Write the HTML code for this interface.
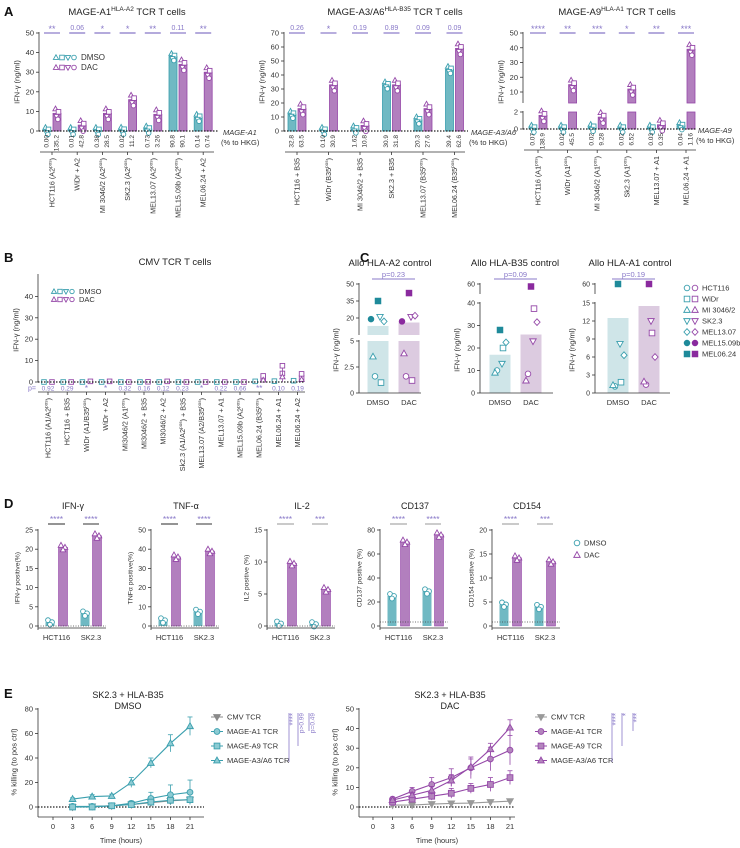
<!DOCTYPE html>
<html><head><meta charset="utf-8">
<style>
html,body{margin:0;padding:0;background:#fff;}
svg{display:block;font-family:"Liberation Sans",sans-serif;}
</style></head>
<body>
<svg id="fig" width="740" height="848" viewBox="0 0 740 848"></svg>
<script>
// ---------- DATA ----------
const a1Labels=["HCT116 (A2|pos)","WiDr + A2","MI 3046/2 (A2|pos)","SK2.3 (A2|pos)","MEL13.07 (A2|pos)","MEL15.09b (A2|pos)","MEL06.24 + A2"];
const a1Dmso=[0.3,0.3,0.3,0.4,1,38,7];
const a1Dac=[9,3,9,16,8.5,34,30];
const a1PctD=["0.00","0.01","0.38","0.02","0.73","90.8","0.14"];
const a1PctT=["135.2","42.8","28.5","11.2","3.26","90.1","0.74"];
const a1Sig=["**","0.06","*","*","**","0.11","**"];
const a2Labels=["HCT116 + B35","WiDr (B35|pos)","MI 3046/2 + B35","SK2.3 + B35","MEL13.07 (B35|pos)","MEL06.24 (B35|pos)"];
const a2Dmso=[12,0.5,1.5,33,8,44];
const a2Dac=[16,33,4,33,16,59];
const a2PctD=["32.8","0.10","1.62","30.9","20.3","39.4"];
const a2PctT=["63.5","30.9","10.8","31.8","27.6","62.6"];
const a2Sig=["0.26","*","0.19","0.89","0.09","0.09"];
const a3Labels=["HCT116 (A1|pos)","WiDr (A1|pos)","MI 3046/2 (A1|pos)","Sk2.3 (A1|pos)","MEL13.07 + A1","MEL06.24 + A1"];
const a3Dmso=[0.1,0.1,0.2,0.1,0.1,0.4];
const a3Dac=[1.6,15,1.4,12,0.5,39];
const a3PctD=["0.07","0.02","0.02","0.02","0.03","0.04"];
const a3PctT=["138.9","45.5","9.28","6.52","0.35","1.16"];
const a3Sig=["****","**","***","*","**","***"];
const bLabels=["HCT116 (A1/A2|pos)","HCT116 + B35","WiDr (A1/B35|pos)","WiDr + A2","MI3046/2 (A1|pos)","MI3046/2 + B35","MI3046/2 + A2","Sk2.3 (A1/A2|pos) + B35","MEL13.07 (A2/B35|pos)","MEL13.07 + A1","MEL15.09b (A2|pos)","MEL06.24 (B35|pos)","MEL06.24 + A1","MEL06.24 + A2"];
const bDmso=[0,0,0,0,0,0,0,0,0,0,0,0.3,0.4,0.6];
const bDac=[0,0,0.3,0.3,0,0.1,0.3,0,0,0,0,1.5,4,2];
const bP=["0.92","0.29","*","*","0.32","0.16","0.12","0.23","*","0.22","0.66","**","0.10","0.19"];
const cShapes=["circle","square","tri","dtri","diamond","fcircle","fsquare"];
const cNames=["HCT116","WiDr","MI 3046/2","SK2.3","MEL13.07","MEL15.09b","MEL06.24"];
const c1Dmso=[1.6,1,3.5,21,17,19,35];
const c1Dac=[1.6,1.2,3.8,21,22,17,42];
const c2Dmso=[10,20,9,13,22.5,null,28];
const c2Dac=[8.5,37.5,5.5,23,31.5,null,55];
const c3Dmso=[1.1,1.8,1.3,8.2,6.3,null,60];
const c3Dac=[1.4,10,1.9,12,6,null,60];
const cBarDmso=[13,17,12.5];
const cBarDac=[16,26,14.5];
const cP=["p=0.23","p=0.09","p=0.19"];
const dTitles=["IFN-γ","TNF-α","IL-2","CD137","CD154"];
const dYTitles=["IFN-γ positive(%)","TNFα positive(%)","IL2 positive (%)","CD137 positive (%)","CD154 positive (%)"];
const dMax=[25,50,15,80,20];
const dStep=[5,10,5,20,5];
const dDmso=[[1,3.3],[3,7.5],[0.4,0.3],[25,29],[4.5,4]];
const dDac=[[20.5,23.5],[36,39],[9.8,5.7],[70,76],[14.2,13.4]];
const dSig=[["****","****"],["****","****"],["****","***"],["****","****"],["****","***"]];
const eTime=[3,6,9,12,15,18,21];
const eLeftCMV=[0,0.5,1,2,3.5,5,6];
const eLeftA1=[0.5,0.5,1,3,7,10,12];
const eLeftA9=[0,0,1,2,4,5.5,6];
const eLeftA3=[6.5,8.5,9,20,36,52,66];
const eLeftA3Err=[1,1.5,1.5,4,4,7,7.5];
const eLeftA1Err=[0.5,0.5,1,2,5,8,10];
const eRightCMV=[1,1,1.5,1.8,2,2.5,3];
const eRightA1=[4,8,11.5,15,20,24.5,29];
const eRightA9=[2.5,4,5.5,7,9.5,11.5,15];
const eRightA3=[3.5,6,8.5,13.5,20.5,29.5,40.5];
const eRightA1Err=[1,2,3.5,4.5,5.5,6,7.5];
const eRightA3Err=[1,1.5,2,3,4,3,4];
const eRightA9Err=[1,1.5,2,2.5,2.5,3.5,3.5];

// ---------- HELPERS ----------
const NS='http://www.w3.org/2000/svg';
const svg=document.getElementById('fig');
const TEAL='#3a9fae',TEALF='#70b9c3',PUR='#9548a8',PURF='#b27fbe',SIG='#8878c8',GREY='#333';
function el(tag,attrs,parent){const e=document.createElementNS(NS,tag);for(const k in attrs)e.setAttribute(k,attrs[k]);(parent||svg).appendChild(e);return e;}
function txt(x,y,s,attrs,name){const t=el('text',Object.assign({x:x,y:y,'font-size':7,fill:'#333'},attrs||{}));t.textContent=s;


return t;}
function line(x1,y1,x2,y2,st,w,extra,name){const l=el('line',Object.assign({x1:x1,y1:y1,x2:x2,y2:y2,stroke:st||GREY,'stroke-width':w||0.8},extra||{}));


return l;}
function marker(shape,cx,cy,r,stroke,fill){
 let e;const filled=shape[0]==='f';
 const s=filled?shape.slice(1):shape;
 if(s==='circle')e=el('circle',{cx:cx,cy:cy,r:r});
 else if(s==='square')e=el('rect',{x:cx-r,y:cy-r,width:2*r,height:2*r});
 else if(s==='tri')e=el('polygon',{points:`${cx},${cy-r*1.2} ${cx-r*1.15},${cy+r*0.85} ${cx+r*1.15},${cy+r*0.85}`});
 else if(s==='dtri')e=el('polygon',{points:`${cx},${cy+r*1.2} ${cx-r*1.15},${cy-r*0.85} ${cx+r*1.15},${cy-r*0.85}`});
 else e=el('polygon',{points:`${cx},${cy-r*1.2} ${cx+r*1.1},${cy} ${cx},${cy+r*1.2} ${cx-r*1.1},${cy}`});
 e.setAttribute('fill',filled?stroke:fill);
 e.setAttribute('stroke',stroke);
 e.setAttribute('stroke-width',0.9);
 
 
 return e;}
function segMap(segs){return function(v){for(const s of segs){if(v<=s.hi)return s.ylo-(Math.max(v,s.lo)-s.lo)/(s.hi-s.lo)*(s.ylo-s.yhi);}const s=segs[segs.length-1];return s.yhi-(v-s.hi)/(s.hi-s.lo)*(s.ylo-s.yhi);};}
function brokenBar(x,w,v,segs,fill,stroke,name){
 segs.forEach(function(s,i){
  if(i>0&&v<=s.lo)return;
  const top=segMap([s])(Math.min(v,s.hi));const bot=(i===0)?s.ylo:(s.ybreak||s.ylo);
  const r=el('rect',{x:x-w/2,y:Math.min(top,bot),width:w,height:Math.abs(bot-top),fill:fill,stroke:stroke||'none','stroke-width':0.8});
  
  
 });}
function yAxis(ax,segs,ticks,fs){
 segs.forEach(function(s){line(ax,s.ybreak||s.ylo,ax,s.yhi-1,GREY,0.8);});
 const m=segMap(segs);
 ticks.forEach(function(t){const y=m(t);line(ax-3,y,ax,y,GREY,0.8,{},'y-tick');txt(ax-5,y+2.5,String(t),{'text-anchor':'end','font-size':fs||7.5},'y-tick-label');});}
function rotText(x,y,s,anchor,fs,name,fill){
 const parts=s.split('|');
 const t=el('text',{x:x,y:y,'font-size':fs,fill:fill||'#333','text-anchor':anchor,transform:`rotate(-90 ${x} ${y})`,'dominant-baseline':'central'});
 t.appendChild(document.createTextNode(parts[0]));
 if(parts[1]!==undefined){
   const rest=parts[1];
   const sp=document.createElementNS(NS,'tspan');sp.setAttribute('font-size',fs*0.65);sp.setAttribute('dy',-2.5);sp.textContent=rest.split(')')[0];t.appendChild(sp);
   const sp2=document.createElementNS(NS,'tspan');sp2.setAttribute('dy',2.5);sp2.textContent=')'+rest.split(')').slice(1).join(')');t.appendChild(sp2);
 }
 
 
 return t;}
function title(x,y,main,sup,rest,name){
 const t=el('text',{x:x,y:y,'font-size':9.5,fill:'#222','text-anchor':'middle'});
 t.appendChild(document.createTextNode(main));
 if(sup){const s=document.createElementNS(NS,'tspan');s.setAttribute('font-size',6.5);s.setAttribute('dy',-4);s.textContent=sup;t.appendChild(s);
 const r=document.createElementNS(NS,'tspan');r.setAttribute('dy',4);r.textContent=rest;t.appendChild(r);}
 
 }
function panelLetter(x,y,s){txt(x,y,s,{'font-size':13,'font-weight':'bold',fill:'#111'},'panel-label-'+s.toLowerCase());}

// ---------- PANEL A ----------
panelLetter(4,16,'A');
const aShapes=["tri","square","dtri","circle"];
const aOff=[[-2.5,-3],[2.5,-1],[-1,2],[1.5,4]];
function aPanel(cfg){
 const m=segMap(cfg.segs);
 yAxis(cfg.ax,cfg.segs,cfg.ticks);
 rotText(cfg.ax-22,82,"IFN-γ (ng/ml)",'middle',7.5,'y-axis-title');
 cfg.dmso.forEach(function(v,i){
  const cx=cfg.g0+i*cfg.gs, xd=cx-5, xt=cx+5;
  brokenBar(xd,8,cfg.dmso[i],cfg.segs,TEALF,TEAL,'bar-dmso');
  brokenBar(xt,8,cfg.dac[i],cfg.segs,PURF,PUR,'bar-dac');
  aShapes.forEach(function(sh,k){marker(sh,xd+aOff[k][0]*0.6,m(cfg.dmso[i])+aOff[k][1],2.3,TEAL,'#fff');});
  aShapes.forEach(function(sh,k){marker(sh,xt+aOff[k][0]*0.6,m(cfg.dac[i])+aOff[k][1]*1.5,2.3,PUR,'#fff');});
  rotText(xd,cfg.pctY,cfg.pctD[i],'end',6.5,'expression-value');
  rotText(xt,cfg.pctY,cfg.pctT[i],'end',6.5,'expression-value');
  line(xd-3,33,xt+3,33,SIG,1.2,{},'significance-bar');
  txt(cx,cfg.sig[i].indexOf('*')>=0?32:30,cfg.sig[i],{'text-anchor':'middle','font-size':cfg.sig[i].indexOf('*')>=0?9:7,fill:SIG},'significance-label');
  line(cx,cfg.catY,cx,cfg.catY+3,GREY,0.8,{},'x-tick');
  rotText(cx,cfg.catY+6,cfg.labels[i],'end',7.2,'category-label');
 });
 line(cfg.ax,cfg.baseY,cfg.xEnd,cfg.baseY,'#222',1.3,{'stroke-dasharray':'1.5,1.5'},'zero-line');
 line(cfg.ax+1,cfg.catY,cfg.catEnd,cfg.catY,GREY,0.8,{},'category-axis');
 txt(cfg.geneX,cfg.baseY+4,cfg.gene,{'font-style':'italic','font-size':7.5},'gene-label');
 txt(cfg.geneX-2,cfg.baseY+14,"(% to HKG)",{'font-size':7.5},'gene-unit');
}
title(127,15,"MAGE-A1","HLA-A2"," TCR T cells",'panel-a1-title');
aPanel({ax:39,segs:[{lo:0,hi:50,ylo:131,yhi:33}],ticks:[0,10,20,30,40,50],g0:52,gs:25.2,dmso:a1Dmso,dac:a1Dac,pctD:a1PctD,pctT:a1PctT,sig:a1Sig,labels:a1Labels,pctY:135,catY:152,baseY:131,xEnd:218,catEnd:214,gene:"MAGE-A1",geneX:223});
title(395,15,"MAGE-A3/A6","HLA-B35"," TCR T cells",'panel-a2-title');
aPanel({ax:284,segs:[{lo:0,hi:70,ylo:131,yhi:33}],ticks:[0,10,20,30,40,50,60,70],g0:297,gs:31.5,dmso:a2Dmso,dac:a2Dac,pctD:a2PctD,pctT:a2PctT,sig:a2Sig,labels:a2Labels,pctY:135,catY:152,baseY:131,xEnd:468,catEnd:465,gene:"MAGE-A3/A6",geneX:471});
title(617,15,"MAGE-A9","HLA-A1"," TCR T cells",'panel-a3-title');
aPanel({ax:523,segs:[{lo:0,hi:2,ylo:129,yhi:112},{lo:10,hi:50,ylo:92,yhi:33,ybreak:103}],ticks:[0,2,10,20,30,40,50],g0:538,gs:29.6,dmso:a3Dmso,dac:a3Dac,pctD:a3PctD,pctT:a3PctT,sig:a3Sig,labels:a3Labels,pctY:133,catY:150,baseY:129,xEnd:696,catEnd:696,gene:"MAGE-A9",geneX:698});
[[56,60,TEAL,"DMSO"],[56,70,PUR,"DAC"]].forEach(function(r){aShapes.forEach(function(sh,k){marker(sh,r[0]+k*6,r[1]-2.5,2.3,r[2],'#fff');});txt(r[0]+25,r[1],r[3],{'font-size':8},'legend-entry');});

// ---------- PANEL B ----------
panelLetter(4,262,'B');
title(175,265,"CMV TCR T cells",null,null,'panel-b-title');
const bSegs=[{lo:0,hi:50,ylo:382,yhi:275}];
const bm=segMap(bSegs);
yAxis(38,bSegs,[0,10,20,30,40]);
rotText(16,330,"IFN-γ (ng/ml)",'middle',7.5,'y-axis-title');
bDmso.forEach(function(v,i){
 const xd=44+i*19.2, xt=xd+8, cx=xd+4;
 marker('square',xd,bm(bDmso[i]),2.3,TEAL,'#fff');
 marker('square',xt,bm(bDac[i]),2.3,PUR,'#fff');
 if(bDac[i]>1){line(xt,bm(bDac[i]*1.9),xt,bm(0),PUR,0.8,{},'error-bar');marker('square',xt,bm(bDac[i]*1.9),2.3,PUR,'#fff');marker('tri',xt,bm(bDac[i]*0.6),2.3,PUR,'#fff');}
 txt(cx,bP[i].indexOf('*')>=0?391:390.5,bP[i],{'text-anchor':'middle','font-size':bP[i].indexOf('*')>=0?8:6.5,fill:SIG},'p-value');
 line(cx,392,cx,395,GREY,0.8,{},'x-tick');
 rotText(cx,398,bLabels[i],'end',7.2,'category-label');
});
line(38,382,305,382,'#222',1.3,{'stroke-dasharray':'1.5,1.5'},'zero-line');
line(38,392,305,392,GREY,0.8,{},'category-axis');
txt(28,390.5,"p=",{'font-size':7,fill:SIG},'p-prefix');
[[54,294,TEAL,"DMSO"],[54,302,PUR,"DAC"]].forEach(function(r){aShapes.forEach(function(sh,k){marker(sh,r[0]+k*6,r[1]-2.5,2.2,r[2],'#fff');});txt(r[0]+25,r[1],r[3],{'font-size':7.5},'legend-entry');});

// ---------- PANEL C ----------
panelLetter(360,262,'C');
const cCfg=[
 {ax:359,segs:[{lo:0,hi:5,ylo:393,yhi:341},{lo:5,hi:50,ylo:335,yhi:284,ybreak:335}],ticks:[0,2.5,5,20,35,50],xd:378,xt:409,xEnd:421,t:"Allo HLA-A2 control",tx:390,d:c1Dmso,a:c1Dac},
 {ax:480,segs:[{lo:0,hi:40,ylo:393,yhi:303},{lo:40,hi:60,ylo:294,yhi:284,ybreak:294}],ticks:[0,10,20,30,40,60],xd:500,xt:531,xEnd:553,t:"Allo HLA-B35 control",tx:515,d:c2Dmso,a:c2Dac},
 {ax:595,segs:[{lo:0,hi:15,ylo:393,yhi:303},{lo:15,hi:60,ylo:294,yhi:284,ybreak:294}],ticks:[0,3,6,9,12,15,60],xd:618,xt:649,xEnd:670,t:"Allo HLA-A1 control",tx:630,d:c3Dmso,a:c3Dac}];
const cOff=[-3,3,-5,2,6,-7,0];
cCfg.forEach(function(c,ci){
 const m=segMap(c.segs);
 txt(c.tx,266,c.t,{'text-anchor':'middle','font-size':9.5,fill:'#222'},'panel-c-title');
 line(c.xd-6,279,c.xt+6,279,SIG,1,{},'significance-bar');
 txt((c.xd+c.xt)/2,277,cP[ci],{'text-anchor':'middle','font-size':7.5,fill:SIG},'p-value');
 brokenBar(c.xd,21,cBarDmso[ci],c.segs,'#cfe5e8',null,'bar-dmso');
 brokenBar(c.xt,21,cBarDac[ci],c.segs,'#dccbe0',null,'bar-dac');
 yAxis(c.ax,c.segs,c.ticks,7);
 rotText(c.ax-23,350,"IFN-γ (ng/ml)",'middle',7.5,'y-axis-title');
 line(c.ax,393,c.xEnd,393,GREY,0.8,{},'x-axis');
 txt(c.xd,405,"DMSO",{'text-anchor':'middle','font-size':7.5},'x-tick-label');
 txt(c.xt,405,"DAC",{'text-anchor':'middle','font-size':7.5},'x-tick-label');
 cShapes.forEach(function(sh,k){
  if(c.d[k]!==null)marker(sh,c.xd+cOff[k],m(c.d[k]),2.8,k>=5?'#1f8a9a':TEAL,'#fff');
  if(c.a[k]!==null)marker(sh,c.xt+cOff[k],m(c.a[k]),2.8,k>=5?'#8a2a9e':PUR,'#fff');
 });
});
cShapes.forEach(function(sh,k){const y=288+k*11;marker(sh,687,y,2.8,k>=5?'#1f8a9a':TEAL,'#fff');marker(sh,695,y,2.8,k>=5?'#8a2a9e':PUR,'#fff');txt(702,y+2.5,cNames[k],{'font-size':7.5},'legend-entry');});

// ---------- PANEL D ----------
panelLetter(4,508,'D');
const dAx=[38,151,267,380,492];
const dOff=[12,25,47,59];
dTitles.forEach(function(tt,ci){
 const ax=dAx[ci];const ym=function(v){return 626-v/dMax[ci]*96;};
 txt(ax+35,509,tt,{'text-anchor':'middle','font-size':9,fill:'#222'},'panel-d-title');
 const ticks=[];for(let t=0;t<=dMax[ci];t+=dStep[ci])ticks.push(t);
 yAxis(ax,[{lo:0,hi:dMax[ci],ylo:626,yhi:530}],ticks,7);
 line(ax,626,ax,630,GREY,0.8);
 rotText(ax-20,578,dYTitles[ci],'middle',6.8,'y-axis-title');
 [0,1].forEach(function(g){
  const xd=ax+dOff[g*2],xt=ax+dOff[g*2+1];
  const r1=el('rect',{x:xd-4.5,y:ym(dDmso[ci][g]),width:9,height:626-ym(dDmso[ci][g]),fill:TEALF});
  
  
  const r2=el('rect',{x:xt-4.5,y:ym(dDac[ci][g]),width:9,height:626-ym(dDac[ci][g]),fill:PURF,stroke:PUR,'stroke-width':0.6});
  
  
  [[-2,-2],[2,0],[0,2.5]].forEach(function(o){marker('circle',xd+o[0],ym(dDmso[ci][g])+o[1],2.4,TEAL,'#fff');marker('tri',xt+o[0],ym(dDac[ci][g])+o[1],2.4,PUR,'#fff');});
  line(xd-2,524,xt+2,524,ci<2?'#555':'#aaa',1.2,{},'significance-bar');
  txt((xd+xt)/2,522,dSig[ci][g],{'text-anchor':'middle','font-size':8.5,fill:SIG},'significance-label');
  txt((xd+xt)/2,640,g===0?"HCT116":"SK2.3",{'text-anchor':'middle','font-size':7.5},'x-tick-label');
 });
 line(ax,628,ax+68,628,GREY,0.8,{},'x-axis');
 line(ax,ci>2?622:626,ax+68,ci>2?622:626,'#444',0.8,{'stroke-dasharray':'1,1.5'},'threshold-line');
});
marker('circle',577,543,2.8,TEAL,'#fff');txt(584,545.5,"DMSO",{'font-size':7.5},'legend-entry');
marker('tri',577,555,2.8,PUR,'#fff');txt(584,557.5,"DAC",{'font-size':7.5},'legend-entry');

// ---------- PANEL E ----------
panelLetter(4,698,'E');
function ePanel(cfg){
 const xm=function(t){return cfg.x0+t/21*(cfg.x21-cfg.x0);};
 const ym=function(v){return 807-v/cfg.max*98;};
 txt(cfg.tx,698,"SK2.3 + HLA-B35",{'text-anchor':'middle','font-size':9,fill:'#222'},'panel-e-title');
 txt(cfg.tx,709,cfg.sub,{'text-anchor':'middle','font-size':9,fill:'#222'},'panel-e-subtitle');
 const ticks=[];for(let t=0;t<=cfg.max;t+=cfg.step)ticks.push(t);
 yAxis(cfg.ax,[{lo:0,hi:cfg.max,ylo:807,yhi:709}],ticks,7.5);
 line(cfg.ax,807,cfg.ax,817,GREY,0.8);
 line(cfg.ax,817,cfg.xEnd,817,GREY,0.8,{},'x-axis');
 [0,3,6,9,12,15,18,21].forEach(function(t){line(xm(t),817,xm(t),820,GREY,0.8,{},'x-tick');txt(xm(t),829,String(t),{'text-anchor':'middle','font-size':7.5},'x-tick-label');});
 txt((cfg.ax+cfg.xEnd)/2,843,"Time (hours)",{'text-anchor':'middle','font-size':7.5},'x-axis-title');
 rotText(cfg.ax-24,762,"% killing (to pos ctrl)",'middle',7.5,'y-axis-title');
 line(cfg.ax,807,cfg.xEnd,807,'#222',1.3,{'stroke-dasharray':'1.5,1.5'},'zero-line');
 cfg.series.forEach(function(s){
  const pts=eTime.map(function(t,i){return xm(t)+','+ym(s.v[i]);}).join(' ');
  const pl=el('polyline',{points:pts,fill:'none',stroke:s.c,'stroke-width':1.1});
  
  
  eTime.forEach(function(t,i){
   if(s.e){line(xm(t),ym(s.v[i]+s.e[i]),xm(t),ym(Math.max(0,s.v[i]-s.e[i])),s.c,0.8,{},'error-bar');line(xm(t)-2.5,ym(s.v[i]+s.e[i]),xm(t)+2.5,ym(s.v[i]+s.e[i]),s.c,0.8,{},'error-cap');}
   marker(s.sh,xm(t),ym(s.v[i]),2.9,s.c,s.f);
  });
 });
 cfg.series.forEach(function(s,k){const y=717+k*14.5;line(cfg.lx-6,y,cfg.lx+6,y,s.c,1,{},'legend-line');marker(s.sh,cfg.lx,y,2.9,s.c,s.f);txt(cfg.lx+10,y+2.5,s.n,{'font-size':7.5},'legend-entry');});
 cfg.sig.forEach(function(sg){line(sg.x,713,sg.x,sg.y2,SIG,0.8,{},'significance-bar');rotText(sg.x+4,713,sg.t,'end',sg.t[0]==='*'?8:6.5,'significance-label',SIG);});
}
ePanel({x0:53,x21:190,ax:38,xEnd:204,max:80,step:20,tx:128,sub:"DMSO",lx:217,
 series:[{v:eLeftCMV,c:'#8a8a8a',f:'#8a8a8a',sh:'dtri',n:"CMV TCR"},{v:eLeftA1,c:TEAL,f:'#8ccbd3',sh:'circle',n:"MAGE-A1 TCR",e:eLeftA1Err},{v:eLeftA9,c:TEAL,f:'#8ccbd3',sh:'square',n:"MAGE-A9 TCR"},{v:eLeftA3,c:TEAL,f:'#8ccbd3',sh:'tri',n:"MAGE-A3/A6 TCR",e:eLeftA3Err}],
 sig:[{x:289,y2:762,t:"****"},{x:298,y2:746,t:"p>0.99"},{x:309,y2:731,t:"p=0.49"}]});
ePanel({x0:373,x21:510,ax:359,xEnd:515,max:50,step:10,tx:450,sub:"DAC",lx:541,
 series:[{v:eRightCMV,c:'#9a9a9a',f:'#9a9a9a',sh:'dtri',n:"CMV TCR"},{v:eRightA1,c:PUR,f:'#b386bd',sh:'circle',n:"MAGE-A1 TCR",e:eRightA1Err},{v:eRightA9,c:PUR,f:'#b386bd',sh:'square',n:"MAGE-A9 TCR",e:eRightA9Err},{v:eRightA3,c:PUR,f:'#b386bd',sh:'tri',n:"MAGE-A3/A6 TCR",e:eRightA3Err}],
 sig:[{x:612,y2:762,t:"****"},{x:622,y2:746,t:"*"},{x:633,y2:731,t:"***"}]});
</script>
</body></html>
